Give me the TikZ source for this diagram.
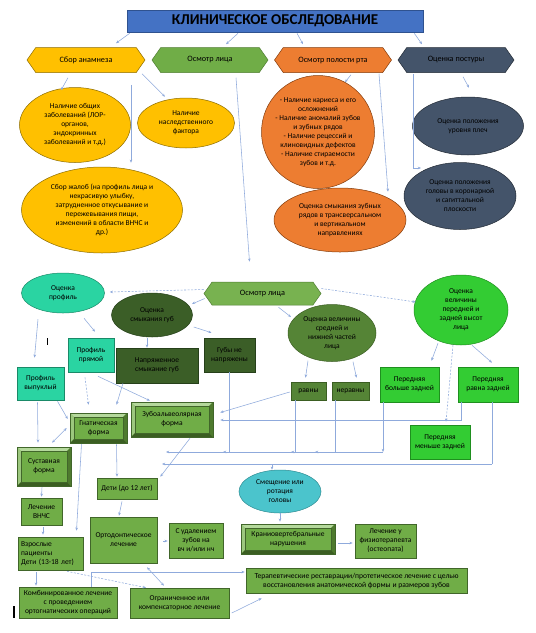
\documentclass[tikz,border=0pt]{standalone}
\usepackage{fontspec}
\setmainfont{Carlito}
\usetikzlibrary{shapes.geometric,shapes.symbols,arrows.meta,calc}
\definecolor{titleblue}{HTML}{4472C4}
\definecolor{titledraw}{HTML}{2F528F}
\definecolor{yel}{HTML}{FFC000}
\definecolor{yeld}{HTML}{8C6D00}
\definecolor{ora}{HTML}{ED7D31}
\definecolor{orad}{HTML}{843C0C}
\definecolor{slate}{HTML}{44546A}
\definecolor{slated}{HTML}{222A35}
\definecolor{facefill}{HTML}{70AD47}
\definecolor{face2fill}{HTML}{78B250}
\definecolor{facedraw}{HTML}{507E32}
\definecolor{mint}{HTML}{2AD4A2}
\definecolor{mintd}{HTML}{1A8A68}
\definecolor{dkg}{HTML}{3B5E27}
\definecolor{dkgd}{HTML}{26401A}
\definecolor{olive}{HTML}{558436}
\definecolor{olived}{HTML}{3B5E22}
\definecolor{brg}{HTML}{33CC33}
\definecolor{brgd}{HTML}{1F8F1F}
\definecolor{cyanish}{HTML}{4BC4CC}
\definecolor{cyanishd}{HTML}{2E8C93}
\definecolor{grn}{HTML}{70AD47}
\definecolor{grnd}{HTML}{41662A}
\definecolor{bevtop}{HTML}{B5D99C}
\definecolor{bevleft}{HTML}{9CC77E}
\definecolor{bevright}{HTML}{4E7A2E}
\definecolor{bevbot}{HTML}{3B5E22}
\definecolor{linec}{HTML}{8FAADC}
\tikzset{
  every node/.style={font=\fontsize{7.5}{9}\selectfont, text=black, align=center},
  conn/.style={draw=linec, line width=0.55pt, -{Stealth[length=3.2pt,width=2.6pt]}},
  connd/.style={conn, dash pattern=on 2pt off 1.5pt},
  conntwo/.style={draw=linec, line width=0.55pt, {Stealth[length=3.2pt,width=2.6pt]}-{Stealth[length=3.2pt,width=2.6pt]}},
  plainline/.style={draw=linec, line width=0.55pt},
  hexa/.style={signal, signal to=west and east, signal pointer angle=110, inner sep=0pt,
    minimum height=25pt, font=\fontsize{8.2}{10}\selectfont, line width=0.5pt},
  ell/.style={ellipse, inner sep=0pt, line width=0.5pt},
  box/.style={rectangle, inner sep=1pt, line width=0.6pt},
  gbox/.style={box, fill=grn, draw=grnd},
  bevel/.style={rectangle, inner sep=1pt, fill=grn, draw=grnd, line width=0.6pt,
    path picture={
      \fill[bevtop] (path picture bounding box.north west) -- (path picture bounding box.north east)
        -- ([xshift=-4pt,yshift=-4pt]path picture bounding box.north east)
        -- ([xshift=4pt,yshift=-4pt]path picture bounding box.north west) -- cycle;
      \fill[bevleft] (path picture bounding box.north west) -- ([xshift=4pt,yshift=-4pt]path picture bounding box.north west)
        -- ([xshift=4pt,yshift=4pt]path picture bounding box.south west)
        -- (path picture bounding box.south west) -- cycle;
      \fill[bevright] (path picture bounding box.north east) -- (path picture bounding box.south east)
        -- ([xshift=-4pt,yshift=4pt]path picture bounding box.south east)
        -- ([xshift=-4pt,yshift=-4pt]path picture bounding box.north east) -- cycle;
      \fill[bevbot] (path picture bounding box.south west) -- (path picture bounding box.south east)
        -- ([xshift=-4pt,yshift=4pt]path picture bounding box.south east)
        -- ([xshift=4pt,yshift=4pt]path picture bounding box.south west) -- cycle;
      \draw[grnd, line width=0.4pt] ([xshift=4pt,yshift=-4pt]path picture bounding box.north west)
        rectangle ([xshift=-4pt,yshift=4pt]path picture bounding box.south east);
    }},
}
\begin{document}
\begin{tikzpicture}[x=1pt,y=-1pt]
\useasboundingbox (0,0) rectangle (536,633);
\fill[white] (0,0) rectangle (536,633);

% ---------- top ----------
\node[rectangle, fill=titleblue, draw=titledraw, line width=0.6pt, minimum width=296pt, minimum height=22pt,
  font=\fontsize{15}{17}\bfseries\selectfont] (title) at (275,21) {КЛИНИЧЕСКОЕ ОБСЛЕДОВАНИЕ};

\node[hexa, fill=yel, draw=yeld, minimum width=118pt] (anam) at (86,60) {Сбор анамнеза};
\node[hexa, fill=facefill, draw=facedraw, minimum width=116pt] (face) at (210,60) {Осмотр лица};
\node[hexa, fill=ora, draw=orad, minimum width=117pt] (oral) at (333,60) {Осмотр полости рта};
\node[hexa, fill=slate, draw=slated, minimum width=116pt] (post) at (456,60) {Оценка постуры};

\node[ell, fill=yel, draw=yeld, minimum width=111pt, minimum height=75pt] (y1) at (75,125)
  {Наличие общих\\заболеваний (ЛОР-\\органов,\\эндокринных\\заболеваний и т.д.)};
\node[ell, fill=yel, draw=yeld, minimum width=97pt, minimum height=50pt] (y2) at (186,123)
  {Наличие\\наследственного\\фактора};
\node[ell, fill=yel, draw=yeld, minimum width=161pt, minimum height=86pt] (y3) at (102,210)
  {Сбор жалоб (на профиль лица и\\некрасивую улыбку,\\затрудненное откусывание и\\пережевывания пищи,\\изменений в области ВНЧС и\\др.)};

\node[ell, fill=ora, draw=orad, minimum width=113pt, minimum height=113pt, inner xsep=-7pt] (o1) at (318,132)
  {- Наличие кариеса и его\\осложнений\\- Наличие аномалий зубов\\и зубных рядов\\- Наличие рецессий и\\клиновидных дефектов\\- Наличие стираемости\\зубов и т.д.};
\node[ell, fill=ora, draw=orad, minimum width=132pt, minimum height=64pt] (o2) at (340,220)
  {Оценка смыкания зубных\\рядов в трансверсальном\\и вертикальном\\направлениях};

\node[ell, fill=slate, draw=slated, minimum width=111pt, minimum height=58pt] (s1) at (468,126)
  {Оценка положения\\уровня плеч};
\node[ell, fill=slate, draw=slated, minimum width=112pt, minimum height=67pt] (s2) at (460,196)
  {Оценка положения\\головы в коронарной\\и сагиттальной\\плоскости};

% ---------- lower ----------
\node[hexa, fill=face2fill, draw=facedraw, minimum width=117pt, minimum height=23pt] (face2) at (262.5,293.5) {Осмотр лица};
\node[ell, fill=mint, draw=mintd, minimum width=83pt, minimum height=40pt] (prof) at (63,293) {Оценка\\профиль};
\node[ell, fill=dkg, draw=dkgd, minimum width=81pt, minimum height=44pt] (lips) at (152,315) {Оценка\\смыкания губ};
\node[ell, fill=olive, draw=olived, minimum width=88pt, minimum height=57pt] (mid) at (332,333)
  {Оценка величины\\средней и\\нижней частей\\лица};
\node[ell, fill=brg, draw=brgd, minimum width=94pt, minimum height=70pt] (ant) at (461,310)
  {Оценка\\величины\\передней и\\задней высот\\лица};

\node[box, fill=mint, draw=mintd, minimum width=47pt, minimum height=33pt] (convex) at (40.5,383.5) {Профиль\\выпуклый};
\node[box, fill=mint, draw=mintd, minimum width=46pt, minimum height=34pt] (straight) at (91,355) {Профиль\\прямой};
\node[box, fill=dkg, draw=dkgd, minimum width=82pt, minimum height=35pt] (tense) at (157,365.5) {Напряженное\\смыкание губ};
\node[box, fill=dkg, draw=dkgd, minimum width=51pt, minimum height=34pt] (relaxed) at (229.5,355) {Губы не\\напряжены};
\node[box, fill=olive, draw=olived, minimum width=35pt, minimum height=18pt] (eq) at (308.5,391) {равны};
\node[box, fill=olive, draw=olived, minimum width=37pt, minimum height=18pt] (neq) at (350.5,391) {неравны};
\node[box, fill=brg, draw=brgd, minimum width=59pt, minimum height=35pt] (antbig) at (409.5,384.5) {Передняя\\больше задней};
\node[box, fill=brg, draw=brgd, minimum width=60pt, minimum height=35pt] (antequal) at (488,384.5) {Передняя\\равна задней};
\node[box, fill=brg, draw=brgd, minimum width=60pt, minimum height=34pt] (antless) at (440,442) {Передняя\\меньше задней};

\node[bevel, minimum width=57pt, minimum height=30pt] (gnat) at (98.5,428) {Гнатическая\\форма};
\node[bevel, minimum width=82pt, minimum height=35pt] (dent) at (172,419.5) {Зубоальвеолярная\\форма};
\node[bevel, minimum width=54pt, minimum height=39pt] (joint) at (44,466.5) {Суставная\\форма};
\node[gbox, minimum width=41pt, minimum height=27pt] (tmj) at (41.5,511.5) {Лечение\\ВНЧС};
\node[gbox, minimum width=60pt, minimum height=21pt] (kids) at (127,488.5) {Дети (до 12 лет)};
\node[ell, fill=cyanish, draw=cyanishd, minimum width=82pt, minimum height=43pt] (shift) at (280,491.5) {Смещение или\\ротация\\головы};

\node[gbox, minimum width=67pt, minimum height=46pt] (ortho) at (123.5,540) {Ортодонтическое\\лечение};
\node[gbox, minimum width=54pt, minimum height=35pt] (extract) at (196,540.5) {С удалением\\зубов на\\вч и/или нч};
\node[bevel, minimum width=94pt, minimum height=30pt] (cranio) at (288,539) {Краниовертебральные\\нарушения};
\node[gbox, minimum width=61pt, minimum height=34pt] (physio) at (385.5,541) {Лечение у\\физиотерапевта\\(остеопата)};
\node[gbox, minimum width=65pt, minimum height=33pt, text width=59pt, inner sep=3pt, align=left] (adults) at (50.5,553.5)
  {Взрослые\\пациенты\\Дети (13-18 лет)};
\node[gbox, minimum width=221pt, minimum height=25pt, font=\fontsize{7.6}{9}\selectfont] (thera) at (356.5,580.5)
  {Терапевтические реставрации/протетическое лечение с целью\\восстановления анатомической формы и размеров зубов};
\node[gbox, minimum width=98pt, minimum height=31pt] (combined) at (68,602.5)
  {Комбинированное лечение\\с проведением\\ортогнатических операций};
\node[gbox, minimum width=99pt, minimum height=30pt] (limited) at (179.5,603)
  {Ограниченное или\\компенсаторное лечение};

% ---------- connectors top ----------
\draw[conn] ($(title.south west)+(3,1)$) -- ($(anam.north)+(30,-4)$);
\draw[conn] ($(title.south)+(-37,1)$) -- ($(face.north)+(16,-3)$);
\draw[conn] ($(title.south)+(22,1)$) -- ($(oral.north)+(-30,-3)$);
\draw[conn] ($(title.south east)+(-9,1)$) -- ($(post.north)+(-34,-3)$);

\draw[conn] ($(anam.south)+(-18,5)$) -- ($(y1.north)+(-14,3)$);
\draw[conn] ($(anam.south)+(56,1)$) -- ($(y2.north)+(-21,-1)$);
\draw[conn] ($(anam.south)+(45,12)$) -- ($(y3.north)+(29,-4)$);
\draw[conn] ($(face.south)+(26,5)$) -- ($(face2.north)+(-13,-20)$);

\draw[conn] ($(oral.south)+(18,2)$) -- ($(o1.north)+(27,7)$);
\draw[conn] ($(oral.south)+(46,1)$) -- ($(o2.north)+(48,4)$);

\draw[conn] ($(post.south)+(7,4)$) -- ($(s1.north)+(1,-9)$);
\draw[conn] ($(post.south)+(-43,1)$) |- ($(s2.center)+(-39,-28)$);

% ---------- connectors lower ----------
\draw[connd] ($(face2.west)+(0,-4)$) -- ($(prof.east)+(5,-1)$);
\draw[conn] ($(face2.west)+(1,5)$) -- ($(lips.center)+(40,-11)$);
\draw[conn] ($(face2.south)+(16,2)$) -- ($(mid.center)+(-41,-16)$);
\draw[connd] ($(face2.east)+(0,-5)$) -- ($(ant.west)+(2,-8)$);

\draw[conn] ($(prof.south)+(-25,6)$) -- ($(convex.north)+(-6,-9)$);
\draw[conn] ($(prof.south)+(21,5)$) -- ($(straight.north)+(4,-6)$);
\draw[conn] ($(lips.south)+(-5,1)$) -- ($(tense.north)+(-10,0)$);
\draw[conn] ($(lips.east)+(1,12)$) -- ($(relaxed.north)+(-18,-5)$);
\draw[conn] ($(mid.south)+(-24,-1)$) -- ($(eq.north)+(-3,-4)$);
\draw[conn] ($(mid.south)+(21,0)$) -- ($(neq.north)+(6,-4)$);
\draw[conn] ($(ant.south)+(-23,-2)$) -- ($(antbig.north)+(22,-6)$);
\draw[conn] ($(ant.south)+(11,0)$) -- ($(antequal.north)+(4,-4)$);
\draw[connd] ($(ant.south)+(-8,0)$) -- ($(antless.north)+(6,-3)$);

\draw[connd] ($(straight.south)+(-6,5)$) -- ($(gnat.north)+(-10,-8)$);
\draw[conn] ($(straight.south)+(7,4)$) -- ($(dent.north)+(-22,-1)$);
\draw[conn] ($(tense.south)+(-34,0)$) -- ($(gnat.north)+(18,-8)$);
\draw[conn] ($(convex.south)+(17,1)$) -- ($(gnat.west)+(-2,-9)$);
\draw[conn] ($(convex.south)+(-3,2)$) -- ($(joint.north)+(-6,-4)$);
\draw[conntwo] ($(gnat.west)+(-3,0)$) -- ($(joint.north)+(8,-4)$);
\draw[conn] ($(joint.south)+(-2,1)$) -- ($(tmj.north)+(0,-1)$);
\draw[conn] ($(gnat.south)+(18,1)$) -- ($(kids.north)+(-10,-1)$);
\draw[conn] ($(gnat.south)+(-17,1)$) -- ($(adults.north)+(26,-6)$);
\draw[conn] ($(dent.south)+(18,1)$) -- ($(kids.north east)+(3,-1)$);
\draw[conn] ($(kids.south)+(-5,2)$) -- ($(ortho.north)+(-4.5,-1)$);

% collecting lines
\coordinate (b1) at (383,452);
\coordinate (b2) at (315,452);
\coordinate (b3) at (291,452);
\coordinate (b4) at (223,452);
\coordinate (b5) at (166,452);
\coordinate (c1) at (492,464);
\coordinate (c2) at (272,464);
\coordinate (c3) at (162,464);
\draw[conn] ($(antbig.south)+(-26.5,0)$) -- (b1);
\draw[conn] (b1) -- (b2);
\draw[conn] (b2) -- (b3);
\draw[conn] (b3) -- (b4);
\draw[conn] (b4) -- (b5);
\draw[plainline] ($(neq.south)+(-15.5,0)$) |- (b2);
\draw[plainline] ($(eq.south)+(-13.5,0)$) |- (b3);
\draw[plainline] (relaxed.south) |- (b4);
\draw[conn] ($(antequal.south)+(-27,0)$) |- ($(dent.east)+(7,0.5)$);
\draw[conn] ($(eq.west)+(-1,1)$) -- ($(dent.east)+(7,-7)$);
\draw[plainline] ($(antequal.south)+(4,0)$) -- (c1);
\draw[conn] (c1) -- (c3);
\draw[conn] (c2) -- ($(shift.north)+(-8,0)$);

\draw[conn] (shift.south) -- ($(cranio.north)+(-8,-2)$);
\draw[conn] ($(cranio.east)+(3,4)$) -- ($(physio.west)+(-2,2)$);
\draw[conn] ($(ortho.east)+(6,1)$) -- ($(extract.west)+(-1,0.5)$);
\draw[conn] ($(tmj.south)+(1.5,2)$) -- ($(adults.north)+(-7.5,-2)$);
\draw[conn] ($(adults.south)+(-14.5,2)$) -- ($(combined.north)+(-32,-1)$);
\draw[connd] ($(adults.south)+(16.5,1)$) -- ($(limited.north)+(-33.5,0)$);
\draw[conntwo] ($(ortho.south)+(23.5,4)$) -- ($(limited.north)+(-15.5,-2)$);
\draw[conn] ($(combined.north)+(23,0)$) |- ($(thera.west)+(-1,-8.5)$);
\draw[conn] ($(limited.east)+(2.5,10)$) -- ($(thera.south west)+(16,5)$);

% cursor marks
\draw[black, line width=1pt] (47,338) -- (47,345);
\draw[black, line width=1.2pt] (14,606) -- (14,618);
\end{tikzpicture}
\end{document}
